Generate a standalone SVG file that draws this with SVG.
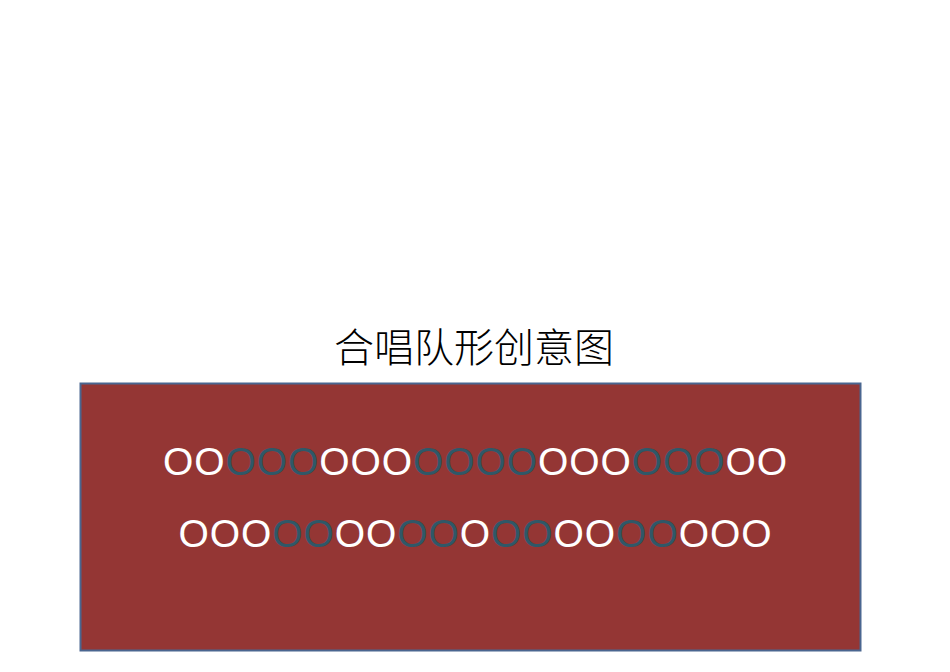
<svg xmlns="http://www.w3.org/2000/svg" width="950" height="672" viewBox="0 0 950 672">
<style>
.title{font-family:"Noto Sans CJK SC","Liberation Sans",sans-serif;font-size:40px;font-weight:300;fill:#000;text-anchor:middle}
.row{font-family:"Liberation Sans",Arial,sans-serif;font-size:39px;fill:#ffffff;text-anchor:middle}
.t{fill:#2f5868}
</style>
<rect width="950" height="672" fill="#ffffff"/>
<g id="title"><text class="title" x="474" y="362">合唱队形创意图</text></g>
<g id="stage">
<rect x="80.5" y="383.5" width="780" height="267" fill="#943634" stroke="#4a6690" stroke-width="2"/>
</g>
<g id="row1"><text class="row" x="475" y="475" textLength="624" lengthAdjust="spacing">OO<tspan class="t">OOO</tspan>OOO<tspan class="t">OOOO</tspan>OOO<tspan class="t">OOO</tspan>OO</text></g>
<g id="row2"><text class="row" x="475" y="547" textLength="593" lengthAdjust="spacing">OOO<tspan class="t">OO</tspan>OO<tspan class="t">OO</tspan>O<tspan class="t">OO</tspan>OO<tspan class="t">OO</tspan>OOO</text></g>
</svg>
